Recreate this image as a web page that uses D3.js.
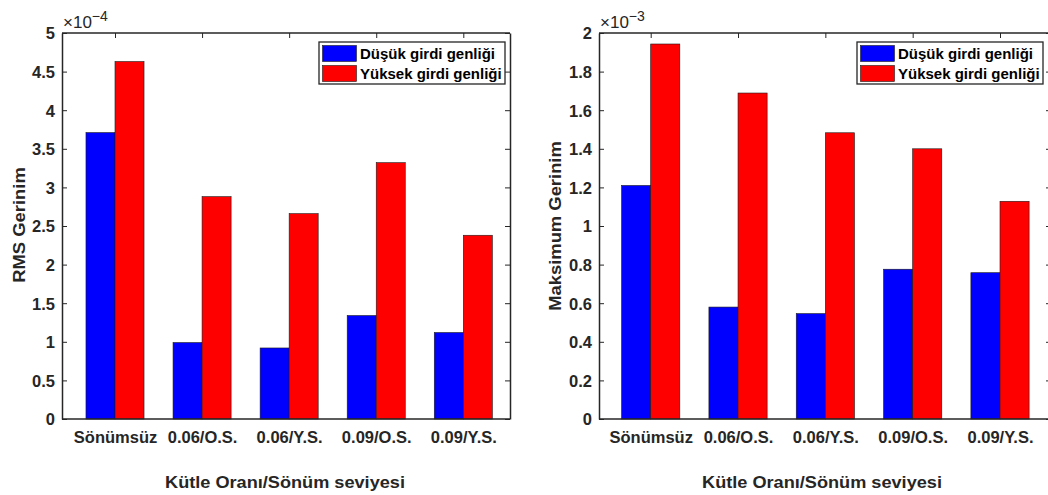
<!DOCTYPE html>
<html><head><meta charset="utf-8">
<script src="https://cdn.jsdelivr.net/npm/d3@7"></script>
<style>
body{margin:0;background:#fff;}
svg{display:block;font-family:'Liberation Sans',Arial,Helvetica,sans-serif;}
</style></head>
<body>
<svg id="chart" width="1048" height="495"></svg>
<script>
const categories = ["Sönümsüz", "0.06/O.S.", "0.06/Y.S.", "0.09/O.S.", "0.09/Y.S."];
const seriesNames = ["Düşük girdi genliği", "Yüksek girdi genliği"];
const seriesColors = ["#0000ff", "#ff0000"];
// RMS Gerinim (×10^-4)
const rmsLow  = [3.71e-4, 0.99e-4, 0.92e-4, 1.34e-4, 1.12e-4];
const rmsHigh = [4.63e-4, 2.88e-4, 2.66e-4, 3.32e-4, 2.38e-4];
// Maksimum Gerinim (×10^-3)
const maxLow  = [1.21e-3, 0.58e-3, 0.546e-3, 0.776e-3, 0.758e-3];
const maxHigh = [1.943e-3, 1.689e-3, 1.483e-3, 1.40e-3, 1.128e-3];
const rmsTicks = [0, 0.5, 1, 1.5, 2, 2.5, 3, 3.5, 4, 4.5, 5];
const maxTicks = [0, 0.2, 0.4, 0.6, 0.8, 1, 1.2, 1.4, 1.6, 1.8, 2];
const xTitle = "Kütle Oranı/Sönüm seviyesi";

const svg = d3.select("#chart");
const txtColor = "#262626";

function panel(cfg){
  const g = svg.append("g");
  const x = d3.scaleLinear().domain([1,5]).range([cfg.xc1, cfg.xc5]);
  const unit = (cfg.xc5 - cfg.xc1)/4;
  const y = d3.scaleLinear().domain([0, cfg.ymax]).range([cfg.y0, cfg.y1]);
  const series = [cfg.low, cfg.high];
  series.forEach((vals, si) => {
    g.append("g").selectAll("rect").data(vals).join("rect")
      .attr("x", (d,i) => x(i+1) + (si === 0 ? -unit/3 : 0))
      .attr("width", unit/3)
      .attr("y", d => y(d))
      .attr("height", d => y(0) - y(d))
      .attr("fill", seriesColors[si])
      .attr("stroke", "#1a1a1a").attr("stroke-width", 0.6);
  });
  const fmt = d => d3.format("~g")(+(d / cfg.mult).toFixed(3));
  const styleAxis = a => {
    a.select(".domain").attr("stroke", txtColor).attr("stroke-width", 1.5);
    a.selectAll(".tick line").attr("stroke", txtColor).attr("stroke-width", 1);
    a.selectAll("text").attr("fill", txtColor).attr("font-size", 16.5).attr("font-weight", "bold")
      .attr("font-family", "'Liberation Sans',Arial,sans-serif");
  };
  // left axis
  const ax = g.append("g").attr("transform", `translate(${cfg.bx0},0)`)
    .call(d3.axisLeft(y).tickValues(cfg.ticks.map(t => t*cfg.mult)).tickFormat(fmt).tickSizeInner(-5).tickSizeOuter(0).tickPadding(7));
  styleAxis(ax);
  ax.selectAll("text").attr("dy", "0.36em");
  // right axis
  const ar = g.append("g").attr("transform", `translate(${cfg.bx1},0)`)
    .call(d3.axisRight(y).tickValues(cfg.ticks.map(t => t*cfg.mult)).tickFormat("").tickSizeInner(-5).tickSizeOuter(0));
  styleAxis(ar);
  const xAxisScale = d3.scaleLinear().domain(x.domain()).range(x.range());
  // top axis
  const at = g.append("g").attr("transform", `translate(0,${cfg.y1})`)
    .call(d3.axisTop(xAxisScale).tickValues([1,2,3,4,5]).tickFormat("").tickSizeInner(-5).tickSizeOuter(0));
  at.select(".domain").attr("d", `M${cfg.bx0},0H${cfg.bx1}`);
  styleAxis(at);
  // bottom axis
  const ab = g.append("g").attr("transform", `translate(0,${cfg.y0})`)
    .call(d3.axisBottom(xAxisScale).tickValues([1,2,3,4,5]).tickFormat((d) => categories[d-1]).tickSizeInner(0).tickSizeOuter(0).tickPadding(12.5));
  ab.select(".domain").attr("d", `M${cfg.bx0},0H${cfg.bx1}`);
  styleAxis(ab);
  // multiplier
  const m = g.append("text").attr("x", cfg.bx0 + 1).attr("y", cfg.y1 - 5)
    .style("font-size", "17px").attr("fill", txtColor);
  m.append("tspan").text("×10");
  m.append("tspan").style("font-size", "14px").attr("dy", -7).text(cfg.exp);
  // y title
  g.append("text")
    .attr("text-anchor", "middle").attr("font-size", 16).attr("font-weight", "bold")
    .attr("fill", txtColor).attr("transform", `translate(${cfg.ytx},${cfg.yty}) rotate(-90) scale(1.15,1)`)
    .text(cfg.yTitle);
  // x title
  g.append("text").attr("x", 0).attr("y", 0)
    .attr("transform", `translate(${cfg.xtx},488) scale(1.1,1)`)
    .attr("text-anchor", "middle").attr("font-size", 16.5).attr("font-weight", "bold")
    .attr("fill", txtColor).text(xTitle);
  // legend
  const lg = g.append("g").attr("transform", `translate(${cfg.lx},42)`);
  lg.append("rect").attr("width", 186).attr("height", 42).attr("fill", "#fff")
    .attr("stroke", txtColor).attr("stroke-width", 1.3);
  seriesNames.forEach((n, i) => {
    lg.append("rect").attr("x", 3.5).attr("y", 3.5 + i*20).attr("width", 34).attr("height", 16)
      .attr("fill", seriesColors[i]).attr("stroke", "#1a1a1a").attr("stroke-width", 0.6);
    lg.append("text").attr("x", 41).attr("y", 16.5 + i*20).attr("font-size", 15).attr("font-weight", "bold")
      .attr("fill", "#000").text(n);
  });
}

panel({xc1:115, xc5:463.3, bx0:62, bx1:510, y0:419, y1:33, ymax:5e-4, mult:1e-4, ticks:rmsTicks,
  low:rmsLow, high:rmsHigh, exp:"−4", yTitle:"RMS Gerinim", ytx:25, yty:225, xtx:285, lx:319});
panel({xc1:650.7, xc5:1000, bx0:599, bx1:1051, y0:419, y1:33, ymax:2e-3, mult:1e-3, ticks:maxTicks,
  low:maxLow, high:maxHigh, exp:"−3", yTitle:"Maksimum Gerinim", ytx:561, yty:226, xtx:822, lx:857});
</script>
</body></html>
